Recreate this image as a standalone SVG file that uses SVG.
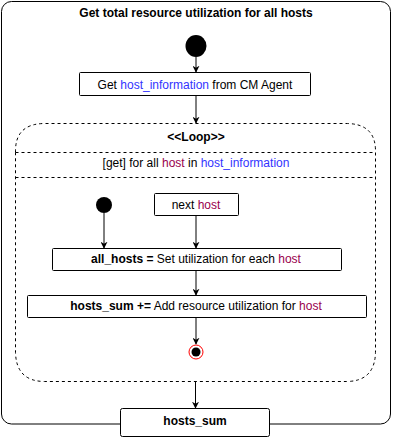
<svg xmlns="http://www.w3.org/2000/svg" width="400" height="441" viewBox="0 0 400 441">
<style>
text{font-family:"Liberation Sans",Arial,sans-serif;font-size:12px;fill:#000;text-anchor:middle}
.b{font-weight:bold}
.blue{fill:#3333FF}
.mar{fill:#99004D}
.box{fill:#fff;stroke:#000;stroke-width:1}
.dash{fill:none;stroke:#000;stroke-width:1;stroke-dasharray:3 3}
.conn{stroke:#000;stroke-width:1;fill:none;marker-end:url(#arr)}
</style>
<defs>
<marker id="arr" viewBox="0 0 10 10" refX="9" refY="5" markerWidth="7" markerHeight="7" markerUnits="userSpaceOnUse" orient="auto">
<path d="M0,0 L10,5 L0,10 L3,5 Z" fill="#000"/>
</marker>
</defs>
<g id="container">
<rect x="1.5" y="1.5" width="389" height="422.5" rx="10" ry="10" fill="#fff" stroke="#000"/>
<text class="b" x="196" y="17">Get total resource utilization for all hosts</text>
</g>
<g id="loop">
<path class="dash" d="M15.5,152.5 L15.5,151 Q15.5,123.5 45,123.5 L346,123.5 Q375.5,123.5 375.5,151 L375.5,152.5"/>
<path class="dash" d="M15.5,152.5 L375.5,152.5 L375.5,351 Q375.5,381.5 346,381.5 L45,381.5 Q15.5,381.5 15.5,351 Z"/>
<line class="dash" x1="15.5" y1="177.5" x2="375.5" y2="177.5"/>
<text class="b" x="196" y="141">&lt;&lt;Loop&gt;&gt;</text>
<text x="196" y="167">[get] for all <tspan class="mar">host</tspan> in <tspan class="blue">host_information</tspan></text>
</g>
<g id="start">
<ellipse cx="196" cy="46" rx="10.5" ry="11" fill="#000"/>
</g>
<g id="get-host-info">
<rect class="box" x="79.5" y="72.5" width="231" height="23" rx="1"/>
<text x="195" y="88.5">Get <tspan class="blue">host_information</tspan> from CM Agent</text>
</g>
<g id="inner-start">
<circle cx="104" cy="205" r="8" fill="#000"/>
</g>
<g id="next-host">
<rect class="box" x="154.5" y="193.5" width="84" height="22" rx="1"/>
<text x="196" y="208.5">next <tspan class="mar">host</tspan></text>
</g>
<g id="all-hosts">
<rect class="box" x="52.5" y="248.5" width="289" height="22" rx="1"/>
<text x="196" y="262.5"><tspan class="b">all_hosts =</tspan> Set utilization for each <tspan class="mar">host</tspan></text>
</g>
<g id="hosts-sum-add">
<rect class="box" x="27.5" y="295.5" width="339" height="22" rx="1"/>
<text x="196" y="309.5"><tspan class="b">hosts_sum +=</tspan> Add resource utilization for <tspan class="mar">host</tspan></text>
</g>
<g id="final">
<circle cx="196" cy="352" r="7" fill="#fff" stroke="#FF0000" stroke-width="1"/>
<circle cx="196" cy="352" r="4.5" fill="#000"/>
</g>
<g id="hosts-sum">
<rect class="box" x="120.5" y="408.5" width="149" height="28" rx="2"/>
<text class="b" x="195" y="425">hosts_sum</text>
</g>
<g id="connectors">
<line class="conn" x1="196" y1="57" x2="196" y2="72"/>
<line class="conn" x1="196" y1="96" x2="196" y2="123"/>
<line class="conn" x1="104" y1="213" x2="104" y2="248"/>
<line class="conn" x1="196" y1="216" x2="196" y2="248"/>
<line class="conn" x1="196" y1="271" x2="196" y2="295"/>
<line class="conn" x1="196" y1="318" x2="196" y2="344"/>
<line class="conn" x1="195.5" y1="382" x2="195.5" y2="408"/>
</g>
</svg>
